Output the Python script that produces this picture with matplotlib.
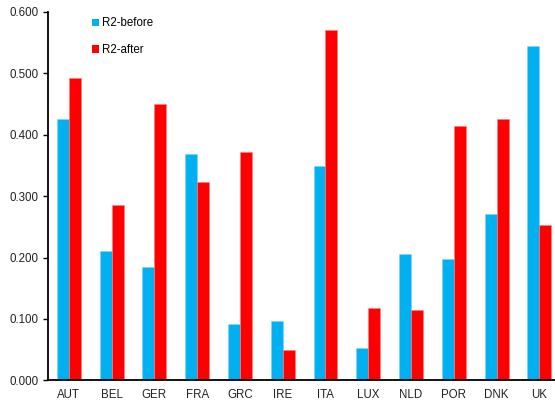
import numpy as np
import matplotlib
matplotlib.use("Agg")
import matplotlib.pyplot as plt
from matplotlib.patches import Patch

plt.rcParams['font.family'] = ['Liberation Sans', 'DejaVu Sans']

countries = ["AUT", "BEL", "GER", "FRA", "GRC", "IRE", "ITA", "LUX", "NLD", "POR", "DNK", "UK"]
r2_before = [0.426, 0.211, 0.184, 0.369, 0.092, 0.097, 0.349, 0.052, 0.206, 0.198, 0.271, 0.545]
r2_after = [0.493, 0.285, 0.450, 0.323, 0.372, 0.049, 0.571, 0.117, 0.115, 0.415, 0.425, 0.253]
y_ticks = [0.0, 0.1, 0.2, 0.3, 0.4, 0.5, 0.6]

BLUE = "#00B0F0"
RED = "#FF0000"
FS = 8.3

fig = plt.figure(figsize=(5.55, 4.07), dpi=100)
ax = fig.add_axes([0.0856, 0.0656, 0.9247, 0.905])

x = np.arange(len(countries))
w = 0.28
ax.bar(x - w / 2, r2_before, width=w, color=BLUE, edgecolor="#7FD5F5", linewidth=0.4, label="R2-before")
ax.bar(x + w / 2, r2_after, width=w, color=RED, edgecolor="#FF8080", linewidth=0.4, label="R2-after")

ax.set_xlim(-0.5, len(countries) - 0.5)
ax.set_ylim(0, 0.6)
ax.set_yticks(y_ticks)
ax.set_yticklabels([f"{v:.3f}" for v in y_ticks], fontsize=FS, color="#222222")
ax.set_xticks(x)
ax.set_xticklabels(countries, fontsize=FS, color="#222222")
ax.tick_params(axis="x", length=0, pad=6)
ax.tick_params(axis="y", direction="out", length=3.5, width=1.0, pad=3)

for s in ("top", "right"):
    ax.spines[s].set_visible(False)
for s in ("left", "bottom"):
    ax.spines[s].set_linewidth(1.3)
    ax.spines[s].set_color("black")

handles = [Patch(facecolor=BLUE, edgecolor="none"), Patch(facecolor=RED, edgecolor="none")]
ax.legend(handles, ["R2-before", "R2-after"], loc="upper left",
          bbox_to_anchor=(0.087, 0.985), frameon=False, fontsize=FS,
          handlelength=0.62, handleheight=0.62, handletextpad=0.2,
          labelspacing=1.25, borderpad=0, borderaxespad=0)

fig.savefig("out.png", dpi=100)
